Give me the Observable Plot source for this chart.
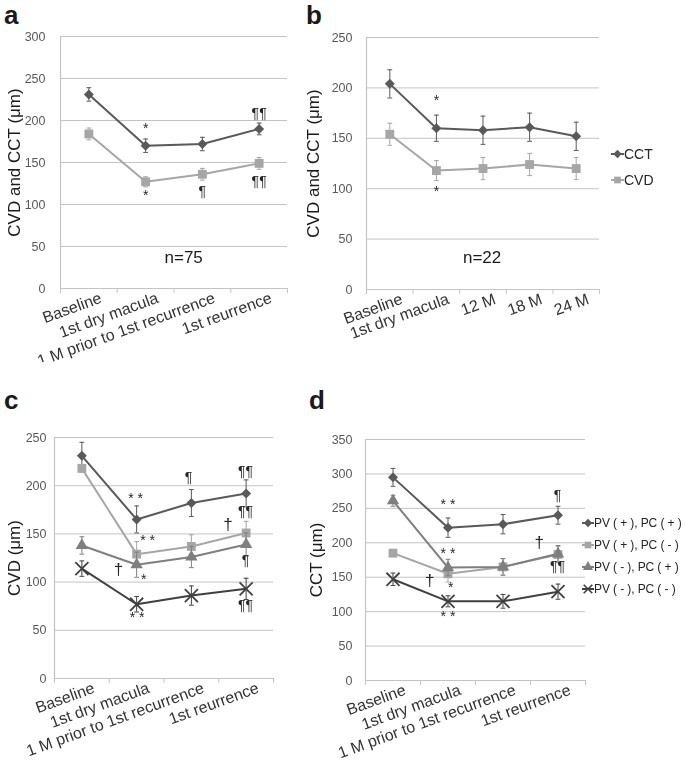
<!DOCTYPE html>
<html>
<head>
<meta charset="utf-8">
<script src="https://cdn.jsdelivr.net/npm/d3@7"></script>
<script src="https://cdn.jsdelivr.net/npm/@observablehq/plot@0.6"></script>
<style>
  html, body { margin: 0; padding: 0; background: #fff; }
  body { width: 685px; height: 765px; position: relative; overflow: hidden; font-family: "Liberation Sans", Arial, sans-serif; }
  .panel { position: absolute; }
  .panel svg { filter: grayscale(1); }
  .letter { position: absolute; font-size: 26px; font-weight: bold; color: #1a1a1a; line-height: 1; }
  .legend { position: absolute; font-size: 14px; color: #262626; filter: grayscale(1); }
  .legend .row { display: flex; align-items: center; white-space: nowrap; }
  .legend svg { display: block; }
</style>
</head>
<body>
<div class="letter" style="left:4px;top:2px;">a</div>
<div class="letter" style="left:306px;top:2px;">b</div>
<div class="letter" style="left:4px;top:387px;">c</div>
<div class="letter" style="left:309px;top:387px;">d</div>
<div id="pa" class="panel" style="left:0;top:0;width:330px;height:362px;overflow:hidden;"></div>
<div id="pb" class="panel" style="left:300px;top:0;"></div>
<div id="pc" class="panel" style="left:0;top:380px;"></div>
<div id="pd" class="panel" style="left:300px;top:380px;"></div>
<div id="legB" class="legend" style="left:611px;top:141px;"></div>
<div id="legD" class="legend" style="left:582px;top:512px;font-size:12px;letter-spacing:-0.1px;"></div>
<script>
// ---------- data ----------
const catsA = ["Baseline", "1st dry macula", "1 M prior to 1st recurrence", "1st reurrence"];
const catsB = ["Baseline", "1st dry macula", "12 M", "18 M", "24 M"];
const ticksA = [0, 50, 100, 150, 200, 250, 300];
const ticksB = [0, 50, 100, 150, 200, 250];
const ticksC = [0, 50, 100, 150, 200, 250];
const ticksD = [0, 50, 100, 150, 200, 250, 300, 350];

// panel a (n=75)
const cctA = [231, 170, 172, 190];
const cctAErr = [8, 8, 8, 7];
const cvdA = [184, 127, 136, 149];
const cvdAErr = [7, 6, 7, 7];
// panel b (n=22)
const cctB = [204, 160, 158, 161, 152];
const cctBErr = [14, 13, 14, 14, 14];
const cvdB = [154, 118, 120, 124, 120];
const cvdBErr = [11, 10, 11, 11, 11];
// panel c (CVD by group)
const cvdPPc = [231, 165, 182, 192];
const cvdPPcErr = [14, 14, 14, 14];
const cvdPMc = [218, 129, 137, 151];
const cvdPMcErr = [4, 13, 12, 12];
const cvdMPc = [138, 118, 126, 139];
const cvdMPcErr = [9, 13, 11, 12];
const cvdMMc = [114, 77, 86, 93];
const cvdMMcErr = [8, 8, 10, 11];
// panel d (CCT by group)
const cctPPd = [295, 222, 227, 240];
const cctPPdErr = [13, 14, 14, 13];
const cctPMd = [185, 155, 165, 183];
const cctPMdErr = [3, 12, 12, 12];
const cctMPd = [261, 164, 165, 184];
const cctMPdErr = [8, 12, 12, 12];
const cctMMd = [147, 115, 115, 129];
const cctMMdErr = [9, 8, 10, 11];

const groupNames = ["PV ( + ), PC ( + )", "PV ( + ), PC ( - )", "PV ( - ), PC ( + )", "PV ( - ), PC ( - )"];

// significance annotations (x in category units, y in µm)
const annA = [
  {x: 1.5, y: 190, t: "*"}, {x: 1.5, y: 111, t: "*"},
  {x: 2.5, y: 116, t: "¶"}, {x: 3.5, y: 208, t: "¶¶"}, {x: 3.5, y: 127, t: "¶¶"}
];
const annB = [{x: 1.5, y: 187, t: "*"}, {x: 1.5, y: 97, t: "*"}];
const annC = [
  {x: 1.48, y: 187, t: "* *"}, {x: 1.7, y: 143, t: "* *"}, {x: 1.17, y: 113, t: "†"},
  {x: 1.63, y: 103, t: "*"}, {x: 1.51, y: 63, t: "* *"}, {x: 2.45, y: 209, t: "¶"},
  {x: 3.49, y: 215, t: "¶¶"}, {x: 3.49, y: 173, t: "¶¶"}, {x: 3.17, y: 160, t: "†"},
  {x: 3.49, y: 122, t: "¶"}, {x: 3.49, y: 76, t: "¶¶"}
];
const annD = [
  {x: 1.5, y: 256, t: "* *"}, {x: 1.5, y: 185, t: "* *"}, {x: 1.55, y: 135, t: "*"},
  {x: 1.17, y: 145, t: "†"}, {x: 1.5, y: 93, t: "* *"}, {x: 3.49, y: 269, t: "¶"},
  {x: 3.16, y: 200, t: "†"}, {x: 3.49, y: 165, t: "¶¶"}
];
const noteA = [{x: 2.17, y: 37, t: "n=75"}];
const noteB = [{x: 2.48, y: 32, t: "n=22"}];

// ---------- styles ----------
const DARK = "#595959", LIGHT = "#a6a6a6", MID = "#7f7f7f", DARKEST = "#404040";
const GRID = "#c4c4c4";
const cap = {draw(ctx, size) { const r = Math.sqrt(size / Math.PI); ctx.moveTo(-r, 0); ctx.lineTo(r, 0); }};

function rows(vals, errs) {
  return vals.map((v, i) => ({x: i + 0.5, v, lo: v - errs[i], hi: v + errs[i]}));
}

function seriesMarks(data, color, symbol, r) {
  const isStroke = symbol === "times";
  return [
    Plot.ruleX(data, {x: "x", y1: "lo", y2: "hi", stroke: color, strokeWidth: 1}),
    Plot.dot(data, {x: "x", y: "lo", symbol: cap, r: 2.4, stroke: color, fill: "none", strokeWidth: 1}),
    Plot.dot(data, {x: "x", y: "hi", symbol: cap, r: 2.4, stroke: color, fill: "none", strokeWidth: 1}),
    Plot.line(data, {x: "x", y: "v", stroke: color, strokeWidth: 2}),
    isStroke
      ? Plot.dot(data, {x: "x", y: "v", symbol, r, stroke: color, strokeWidth: 1.8, fill: "none"})
      : Plot.dot(data, {x: "x", y: "v", symbol, r, fill: color, stroke: "none"})
  ];
}

function panel({cats, yTicks, width, height, mL, mR, mT, mB, title, labelOffset, tickPad, series, ann, note}) {
  const n = cats.length;
  return Plot.plot({
    width, height,
    marginLeft: mL, marginRight: mR, marginTop: mT, marginBottom: mB,
    style: {fontFamily: "'Liberation Sans', Arial, sans-serif", background: "transparent", overflow: "visible"},
    x: {type: "linear", domain: [0, n]},
    y: {domain: [0, yTicks[yTicks.length - 1]]},
    marks: [
      Plot.gridY({ticks: yTicks, stroke: GRID, strokeOpacity: 1, strokeWidth: 1}),
      Plot.ruleX([0], {stroke: GRID, strokeWidth: 1.2}),
      Plot.ruleY([0], {stroke: GRID, strokeWidth: 1.2}),
      Plot.axisY({ticks: yTicks, tickSize: 0, tickPadding: tickPad, fontSize: 12.5, color: "#595959", label: null}),
      Plot.axisY({ticks: [], label: title, labelAnchor: "center", labelArrow: "none", labelOffset, fontSize: 17, color: "#1a1a1a"}),
      Plot.axisX({ticks: d3.range(n + 1), tickFormat: () => "", tickSize: 5, color: GRID, label: null}),
      Plot.axisX({ticks: cats.map((_, i) => i + 0.5), tickFormat: d => cats[Math.floor(d)], tickSize: 0, tickPadding: 6,
                  tickRotate: -20, fontSize: 16, color: "#333", label: null, dx: 12, dy: 3}),
      ...series.flatMap(s => seriesMarks(s.data, s.color, s.symbol, s.r)),
      Plot.text(ann, {x: "x", y: "y", text: "t", fontSize: d => d.t === "†" ? 17 : 14, fill: "#262626"}),
      ...(note ? [Plot.text(note, {x: "x", y: "y", text: "t", fontSize: 17, fill: "#1a1a1a"})] : [])
    ]
  });
}

document.getElementById("pa").append(panel({
  cats: catsA, yTicks: ticksA, width: 330, height: 370, mL: 60, mR: 43, mT: 36, mB: 82,
  title: "CVD and CCT (μm)", labelOffset: 52.5, tickPad: 15,
  series: [
    {data: rows(cctA, cctAErr), color: DARK, symbol: "diamond2", r: 4.5},
    {data: rows(cvdA, cvdAErr), color: LIGHT, symbol: "square", r: 5}
  ],
  ann: annA, note: noteA
}));

document.getElementById("pb").append(panel({
  cats: catsB, yTicks: ticksB, width: 385, height: 370, mL: 66, mR: 86, mT: 37, mB: 81,
  title: "CVD and CCT (μm)", labelOffset: 60, tickPad: 14,
  series: [
    {data: rows(cctB, cctBErr), color: DARK, symbol: "diamond2", r: 4.5},
    {data: rows(cvdB, cvdBErr), color: LIGHT, symbol: "square", r: 5}
  ],
  ann: annB, note: noteB
}));

document.getElementById("pc").append(panel({
  cats: catsA, yTicks: ticksC, width: 330, height: 385, mL: 54, mR: 57, mT: 57, mB: 87,
  title: "CVD (μm)", labelOffset: 47, tickPad: 8,
  series: [
    {data: rows(cvdPPc, cvdPPcErr), color: DARK, symbol: "diamond2", r: 4.5},
    {data: rows(cvdPMc, cvdPMcErr), color: LIGHT, symbol: "square", r: 5},
    {data: rows(cvdMPc, cvdMPcErr), color: MID, symbol: "triangle", r: 4.6},
    {data: rows(cvdMMc, cvdMMcErr), color: DARKEST, symbol: "times", r: 6}
  ],
  ann: annC
}));

document.getElementById("pd").append(panel({
  cats: catsA, yTicks: ticksD, width: 385, height: 385, mL: 65, mR: 100, mT: 59, mB: 85,
  title: "CCT (μm)", labelOffset: 55.5, tickPad: 13,
  series: [
    {data: rows(cctPPd, cctPPdErr), color: DARK, symbol: "diamond2", r: 4.5},
    {data: rows(cctPMd, cctPMdErr), color: LIGHT, symbol: "square", r: 5},
    {data: rows(cctMPd, cctMPdErr), color: MID, symbol: "triangle", r: 4.6},
    {data: rows(cctMMd, cctMMdErr), color: DARKEST, symbol: "times", r: 6}
  ],
  ann: annD
}));

// ---------- legends ----------
function swatch(color, symbol, w) {
  const s = d3.create("svg").attr("width", w).attr("height", 12);
  s.append("line").attr("x1", 0).attr("x2", w).attr("y1", 6).attr("y2", 6).attr("stroke", color).attr("stroke-width", 2);
  const sym = {diamond2: d3.symbolDiamond2, square: d3.symbolSquare, triangle: d3.symbolTriangle, times: d3.symbolTimes}[symbol];
  const p = s.append("path").attr("transform", `translate(${w / 2},6)`).attr("d", d3.symbol(sym, symbol === "times" ? 50 : 45)());
  if (symbol === "times") p.attr("fill", "none").attr("stroke", color).attr("stroke-width", 1.6);
  else p.attr("fill", color);
  return s.node();
}
function legend(el, items, rowH, w) {
  for (const it of items) {
    const row = document.createElement("div");
    row.className = "row";
    row.style.height = rowH + "px";
    row.append(swatch(it.color, it.symbol, w));
    const t = document.createElement("span");
    t.textContent = it.label;
    row.append(t);
    el.append(row);
  }
}
legend(document.getElementById("legB"), [
  {label: "CCT", color: DARK, symbol: "diamond2"},
  {label: "CVD", color: LIGHT, symbol: "square"}
], 26, 13);
legend(document.getElementById("legD"), [
  {label: groupNames[0], color: DARK, symbol: "diamond2"},
  {label: groupNames[1], color: LIGHT, symbol: "square"},
  {label: groupNames[2], color: MID, symbol: "triangle"},
  {label: groupNames[3], color: DARKEST, symbol: "times"}
], 22, 12);
</script>
</body>
</html>
